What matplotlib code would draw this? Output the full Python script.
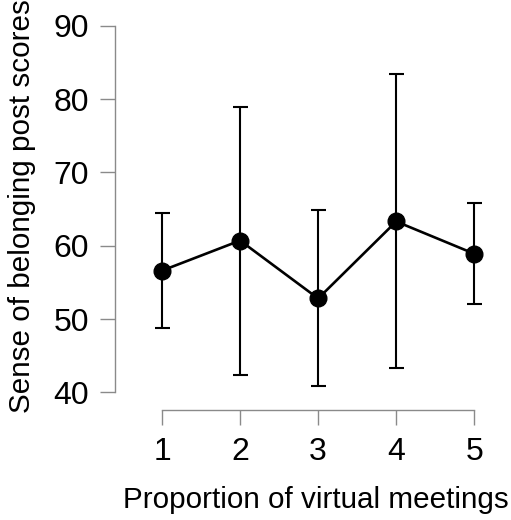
import matplotlib.pyplot as plt

plt.rcParams['font.family'] = ['Liberation Sans', 'DejaVu Sans']

meetings = [1, 2, 3, 4, 5]
means = [56.6, 60.7, 52.8, 63.3, 58.9]
upper = [64.5, 78.9, 64.9, 83.4, 65.8]
lower = [48.8, 42.4, 40.8, 43.3, 52.0]

err_low = [m - l for m, l in zip(means, lower)]
err_high = [u - m for u, m in zip(upper, means)]

W, H = 511, 520
fig = plt.figure(figsize=(W / 100, H / 100), dpi=100)
# axes box in pixels: left 115, right 500, bottom 410, top 20
ax = fig.add_axes([115 / W, 1 - 410 / H, (500 - 115) / W, (410 - 20) / H])

ax.errorbar(meetings, means, yerr=[err_low, err_high], color="black",
            linewidth=1.9, elinewidth=1.5, capsize=5.4, capthick=1.5,
            marker="o", markersize=12, zorder=3)

ax.set_xlim(0.397, 5.33)
ax.set_ylim(37.59, 90.78)

grey = "#8a8a8a"
for side in ["top", "right"]:
    ax.spines[side].set_visible(False)
ax.spines["left"].set_bounds(40, 90)
ax.spines["bottom"].set_bounds(1, 5)
for side in ["left", "bottom"]:
    ax.spines[side].set_color(grey)
    ax.spines[side].set_linewidth(1.0)

ax.set_xticks(meetings)
ax.set_yticks([40, 50, 60, 70, 80, 90])
ax.tick_params(axis="both", colors=grey, labelcolor="black", labelsize=23,
               length=10.8, width=1.0)
ax.tick_params(axis="y", pad=8)
ax.tick_params(axis="x", pad=9)

fig.text(316 / W, 1 - 500 / H, "Proportion of virtual meetings",
         ha="center", va="center", fontsize=21.3)
fig.text(22 / W, 1 - 206 / H, "Sense of belonging post scores",
         ha="center", va="center", rotation=90, fontsize=21.3)

fig.savefig("out.png", dpi=100)
